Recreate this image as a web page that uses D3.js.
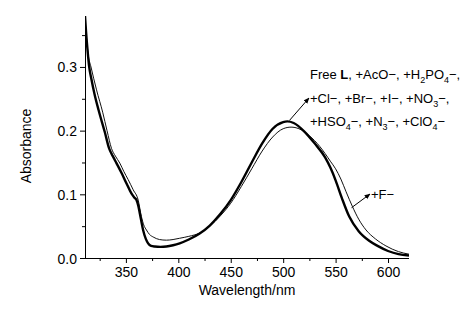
<!DOCTYPE html>
<html><head><meta charset="utf-8">
<script src="https://cdn.jsdelivr.net/npm/d3@7"></script>
<style>body{margin:0;background:#fff}svg{display:block}text{font-family:"Liberation Sans",Arial,sans-serif;fill:#000}</style>
</head><body><svg id="c" width="465" height="311"></svg>
<script>
// Free L and other anions (thick curve)
const wlFree = [311,312,313.5,315,317,320,324,330,334,337.5,341,346,350.6,355.4,358,360.1,361.8,363.3,366.4,369,371.2,374,377.5,383,388.6,395,401.3,410,420,430,440,450,460,470,480,490,500,504,510,520,530,540,545,550,556,563,572,582,590,600,610,620];
const absFree = [0.38,0.355,0.325,0.30,0.282,0.258,0.232,0.197,0.172,0.160,0.149,0.133,0.117,0.101,0.095,0.091,0.082,0.070,0.044,0.030,0.023,0.019,0.018,0.0175,0.018,0.020,0.023,0.029,0.038,0.051,0.069,0.091,0.119,0.150,0.180,0.203,0.2135,0.2145,0.212,0.199,0.180,0.158,0.142,0.122,0.094,0.065,0.042,0.027,0.019,0.011,0.006,0.004];
// +F- (thin curve)
const wlF = [311,312.5,314,316.7,322,328,332,336.3,340,344.2,348,352.2,357,361.7,364.8,367,369.6,372.5,376,382,388.6,395,401.3,410,420,430,440,450,460,470,480,490,500,507.5,515,525,535,545,550,555,560,566,572,579,588,598,610,620];
const absF = [0.375,0.345,0.32,0.30,0.264,0.228,0.200,0.172,0.160,0.149,0.136,0.123,0.107,0.091,0.065,0.052,0.044,0.037,0.033,0.029,0.028,0.029,0.031,0.034,0.039,0.050,0.066,0.086,0.112,0.140,0.168,0.190,0.203,0.2055,0.203,0.192,0.175,0.152,0.140,0.124,0.104,0.081,0.061,0.044,0.030,0.019,0.010,0.006];
const xTicks = [350,400,450,500,550,600];
const yTicks = [0.0,0.1,0.2,0.3];
const xTitle = "Wavelength/nm";
const yTitle = "Absorbance";

const svg = d3.select("#c");
const L=85, R=409, T=16, B=258;
const x = d3.scaleLinear().domain([311,620]).range([L,R]);
const y = d3.scaleLinear().domain([0,0.38]).range([B,T]);

svg.append("defs").append("clipPath").attr("id","clip").append("rect")
  .attr("x",L).attr("y",T).attr("width",R-L).attr("height",B-T);

const line = d3.line().x(d=>x(d[0])).y(d=>y(d[1])).curve(d3.curveMonotoneX);
const g = svg.append("g").attr("clip-path","url(#clip)");
g.append("path").datum(d3.zip(wlF,absF)).attr("d",line).attr("fill","none").attr("stroke","#111").attr("stroke-width",1);
g.append("path").datum(d3.zip(wlFree,absFree)).attr("d",line).attr("fill","none").attr("stroke","#000").attr("stroke-width",2.4);

// axes
const xa = svg.append("g").attr("transform",`translate(0,${B})`)
  .call(d3.axisBottom(x).tickValues(xTicks).tickSize(5).tickFormat(d3.format("d")));
const xm = svg.append("g").attr("transform",`translate(0,${B})`)
  .call(d3.axisBottom(x).tickValues([325,375,425,475,525,575]).tickSize(3).tickFormat(""));
const ya = svg.append("g").attr("transform",`translate(${L},0)`)
  .call(d3.axisLeft(y).tickValues(yTicks).tickSize(5).tickFormat(d3.format(".1f")));
const ym = svg.append("g").attr("transform",`translate(${L},0)`)
  .call(d3.axisLeft(y).tickValues([0.05,0.15,0.25,0.35]).tickSize(3).tickFormat(""));
[xa,xm,ya,ym].forEach(a=>{
  a.select(".domain").attr("stroke","#000").attr("stroke-width",1);
  a.selectAll(".tick line").attr("stroke","#000");
  a.selectAll("text").style("font-family",'"Liberation Sans",Arial,sans-serif').style("font-size","14px").attr("fill","#000");
});
xm.select(".domain").remove(); ym.select(".domain").remove();
xa.selectAll("text").attr("dy",null).attr("y",19);
ya.selectAll("text").attr("x",-8).attr("dy","0.36em");
xa.select(".domain").attr("d",`M${L},0.5H${R}`);
ya.select(".domain").attr("d",`M0.5,${B}V${T}`);

svg.append("text").attr("x",(L+R)/2).attr("y",295).attr("text-anchor","middle").style("font-size","14px").text(xTitle);
svg.append("text").attr("transform",`translate(31,146) rotate(-90)`).attr("text-anchor","middle").style("font-size","14px").text(yTitle);

// legend text
const lines = [
  [["Free ",0],["L",2],[", +AcO−, +H",0],["2",1],["PO",0],["4",1],["−,",0]],
  [["+Cl−, +Br−, +I−, +NO",0],["3",1],["−,",0]],
  [["+HSO",0],["4",1],["−, +N",0],["3",1],["−, +ClO",0],["4",1],["−",0]]
];
const baselines=[79,103,126];
lines.forEach((segs,i)=>{
  const t = svg.append("text").attr("x",310).attr("y",baselines[i]).style("font-size","13px");
  segs.forEach((s,j)=>{
    const ts=t.append("tspan").text(s[0]);
    if(s[1]===1) ts.style("font-size","9px").attr("dy",4);
    else if(s[1]===2) ts.style("font-weight","bold");
    if(s[1]!==1 && j>0 && segs[j-1][1]===1) ts.attr("dy",-4);
  });
});
svg.append("text").attr("x",371).attr("y",199).style("font-size","13px").text("+F−");

// arrows
const defs = svg.select("defs");
defs.append("marker").attr("id","ah").attr("viewBox","0 0 10 10").attr("refX",9).attr("refY",5)
  .attr("markerWidth",6).attr("markerHeight",6).attr("orient","auto")
  .append("path").attr("d","M0,1L10,5L0,9Z").attr("fill","#000");
svg.append("line").attr("x1",x(506)).attr("y1",y(0.216)).attr("x2",309).attr("y2",98)
  .attr("stroke","#000").attr("stroke-width",1).attr("marker-end","url(#ah)");
svg.append("line").attr("x1",x(565.2)).attr("y1",y(0.079)).attr("x2",370).attr("y2",194)
  .attr("stroke","#000").attr("stroke-width",1).attr("marker-end","url(#ah)");
</script></body></html>
